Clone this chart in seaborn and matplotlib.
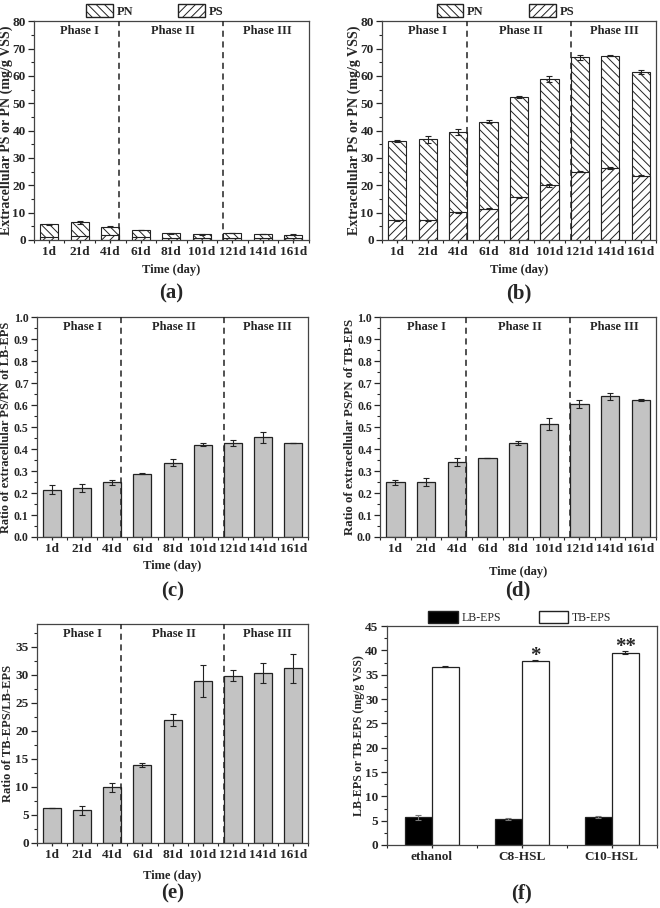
import numpy as np
import pandas as pd
import matplotlib
matplotlib.use('Agg')
import matplotlib.pyplot as plt
import seaborn as sns
from matplotlib.patches import Patch
from matplotlib.ticker import MultipleLocator, FixedLocator

sns.set_style('ticks')
plt.rcParams['font.family'] = ['Liberation Serif', 'DejaVu Serif']
plt.rcParams['font.weight'] = 'bold'
plt.rcParams['axes.labelweight'] = 'bold'
plt.rcParams['hatch.linewidth'] = 0.7

days = ['1d', '21d', '41d', '61d', '81d', '101d', '121d', '141d', '161d']

# (a) LB-EPS PN+PS (stacked, total height) and PS
a_total = [5.8, 6.4, 4.9, 3.7, 2.4, 2.1, 2.5, 2.2, 2.0]
a_total_err = [0.2, 0.5, 0.3, 0.1, 0.1, 0.1, 0.1, 0.1, 0.1]
a_ps = [1.2, 1.3, 2.0, 1.1, 0.7, 0.7, 0.9, 0.7, 0.7]

# (b) TB-EPS PN+PS and PS
b_total = [36.2, 36.8, 39.5, 43.3, 52.3, 58.8, 66.8, 67.3, 61.4]
b_total_err = [0.5, 1.3, 1.0, 0.4, 0.3, 1.0, 1.0, 0.2, 0.7]
b_ps = [7.2, 7.2, 10.1, 11.5, 15.6, 20.0, 25.0, 26.2, 23.5]
b_ps_err = [0.2, 0.2, 0.2, 0.2, 0.2, 0.5, 0.2, 0.4, 0.2]

# (c) PS/PN ratio of LB-EPS
c_ratio = [0.215, 0.225, 0.248, 0.288, 0.338, 0.420, 0.428, 0.455, 0.430]
c_err = [0.020, 0.018, 0.012, 0.003, 0.017, 0.007, 0.013, 0.025, 0.0]

# (d) PS/PN ratio of TB-EPS
d_ratio = [0.248, 0.250, 0.342, 0.360, 0.428, 0.515, 0.605, 0.640, 0.623]
d_err = [0.010, 0.020, 0.018, 0.0, 0.010, 0.028, 0.018, 0.017, 0.006]

# (e) TB-EPS/LB-EPS ratio
e_ratio = [6.3, 5.8, 9.9, 13.9, 21.9, 28.9, 29.8, 30.3, 31.1]
e_err = [0.0, 0.8, 0.8, 0.3, 1.1, 2.9, 1.0, 1.7, 2.6]

# (f) AHL addition
groups = ['ethanol', 'C8-HSL', 'C10-HSL']
lb_eps = [5.7, 5.3, 5.8]
lb_err = [0.5, 0.2, 0.2]
tb_eps = [36.7, 37.9, 39.5]
tb_err = [0.2, 0.1, 0.3]
stars = ['', '*', '**']

phases = ['Phase I', 'Phase II', 'Phase III']
phase_x = [1.0, 4.05, 7.15]

EDGE = '#222222'
GRAY = '#c3c3c3'
BW = 0.6

fig = plt.figure(figsize=(6.6, 9.08), dpi=100)
ax_a = fig.add_axes([0.0515, 0.7357, 0.416, 0.241])
ax_b = fig.add_axes([0.5788, 0.7357, 0.415, 0.241])
ax_c = fig.add_axes([0.056, 0.4086, 0.411, 0.242])
ax_d = fig.add_axes([0.576, 0.4086, 0.418, 0.242])
ax_e = fig.add_axes([0.056, 0.0716, 0.411, 0.241])
ax_f = fig.add_axes([0.586, 0.0694, 0.409, 0.241])


def style_axis(ax, ymax, ystep, n, ysize=9.5):
    ax.set_ylim(0, ymax)
    ax.set_xlim(-0.5, n - 0.5)
    ax.yaxis.set_major_locator(MultipleLocator(ystep))
    ax.yaxis.set_minor_locator(MultipleLocator(ystep / 2))
    ax.xaxis.set_minor_locator(FixedLocator(np.arange(-0.5, n, 1.0)))
    ax.tick_params(axis='both', which='major', labelsize=9.5, length=4, width=0.9, direction='out', pad=2)
    ax.tick_params(axis='y', which='major', labelsize=ysize)
    ax.tick_params(axis='both', which='minor', length=2.2, width=0.8, direction='out')
    ax.tick_params(axis='x', which='major', length=2)
    for s in ax.spines.values():
        s.set_visible(True)
        s.set_color('#444444')
        s.set_linewidth(0.9)
    for lab in ax.get_xticklabels() + ax.get_yticklabels():
        lab.set_fontweight('bold')


def labels(ax, ylabel, ylab_x, ylab_len, xlab_pad):
    # ylab_len: length of the y label in pixels as in the reference
    lab = ax.set_ylabel(ylabel, fontsize=9)
    ax.yaxis.set_label_coords(ylab_x, 0.5)
    r = fig.canvas.get_renderer()
    h = lab.get_window_extent(renderer=r).height
    lab.set_fontsize(9 * ylab_len / h)
    if xlab_pad is not None:
        ax.set_xlabel('Time (day)', fontsize=9, labelpad=xlab_pad)
    else:
        ax.set_xlabel('')


def phase_marks(ax):
    for xv in [2 + BW / 2, 6 - BW / 2]:
        ax.axvline(xv, color='#222222', ls=(0, (4, 3)), lw=1.1, zorder=5)
    for px, name in zip(phase_x, phases):
        ax.text(px, 0.955, name, transform=ax.get_xaxis_transform(), ha='center', va='center',
                fontsize=9, fontweight='bold')


def stacked(ax, total, ps, total_err, ps_err=None, leg_x=0.45):
    df = pd.DataFrame({'day': days, 'total': total, 'ps': ps})
    sns.barplot(data=df, x='day', y='total', color='white', edgecolor=EDGE, linewidth=0.8,
                width=BW, errorbar=None, ax=ax)
    n_first = len(ax.patches)
    for p in ax.patches[:n_first]:
        p.set_hatch('\\\\\\\\')
    sns.barplot(data=df, x='day', y='ps', color='white', edgecolor=EDGE, linewidth=0.8,
                width=BW, errorbar=None, ax=ax)
    for p in ax.patches[n_first:]:
        p.set_hatch('////')
    x = np.arange(len(days))
    ax.errorbar(x, total, yerr=total_err, fmt='none', ecolor='#222222', elinewidth=0.8, capsize=2.5, capthick=0.8, zorder=6)
    if ps_err is not None:
        ax.errorbar(x, ps, yerr=ps_err, fmt='none', ecolor='#222222', elinewidth=0.8, capsize=2.5, capthick=0.8, zorder=6)
    handles = [Patch(facecolor='white', edgecolor=EDGE, hatch='\\\\\\\\', label='PN'),
               Patch(facecolor='white', edgecolor=EDGE, hatch='////', label='PS')]
    ax.legend(handles=handles, loc='lower center', bbox_to_anchor=(leg_x, 0.987), ncol=2, frameon=False,
              borderpad=0, handlelength=2.15, handleheight=1.25, columnspacing=3.6, handletextpad=0.3,
              prop={'size': 9, 'weight': 'bold'})


def gray_bars(ax, vals, errs):
    df = pd.DataFrame({'day': days, 'value': vals})
    sns.barplot(data=df, x='day', y='value', color=GRAY, saturation=1, edgecolor=EDGE, linewidth=0.9,
                width=BW, errorbar=None, ax=ax)
    ax.errorbar(np.arange(len(days)), vals, yerr=errs, fmt='none', ecolor='#222222', elinewidth=0.8,
                capsize=2.5, capthick=0.8, zorder=6)


# (a)
stacked(ax_a, a_total, a_ps, a_total_err, leg_x=0.439)
style_axis(ax_a, 80, 10, len(days))
phase_marks(ax_a)
labels(ax_a, 'Extracellular PS or PN (mg/g VSS)', -0.077, 209, 5)

# (b)
stacked(ax_b, b_total, b_ps, b_total_err, b_ps_err, leg_x=0.45)
style_axis(ax_b, 80, 10, len(days))
phase_marks(ax_b)
labels(ax_b, 'Extracellular PS or PN (mg/g VSS)', -0.077, 210, 5)

# (c)
gray_bars(ax_c, c_ratio, c_err)
style_axis(ax_c, 1.0, 0.1, len(days), ysize=8.5)
phase_marks(ax_c)
ax_c.yaxis.set_minor_locator(MultipleLocator(0.05))
labels(ax_c, 'Ratio of extracellular PS/PN of LB-EPS', -0.092, 210, 4)

# (d)
gray_bars(ax_d, d_ratio, d_err)
style_axis(ax_d, 1.0, 0.1, len(days), ysize=8.5)
phase_marks(ax_d)
labels(ax_d, 'Ratio of extracellular PS/PN of TB-EPS', -0.089, 216, 8)

# (e)
gray_bars(ax_e, e_ratio, e_err)
style_axis(ax_e, 39, 5, len(days))
phase_marks(ax_e)
labels(ax_e, 'Ratio of TB-EPS/LB-EPS', -0.085, 137, 7)

# (f)
df_f = pd.DataFrame({'group': groups * 2,
                     'type': ['LB-EPS'] * 3 + ['TB-EPS'] * 3,
                     'value': lb_eps + tb_eps})
sns.barplot(data=df_f, x='group', y='value', hue='type', palette={'LB-EPS': 'black', 'TB-EPS': 'white'},
            saturation=1, edgecolor=EDGE, linewidth=0.9, width=0.6, gap=0, errorbar=None, ax=ax_f)
off = 0.15
xg = np.arange(len(groups))
ax_f.errorbar(xg - off, lb_eps, yerr=lb_err, fmt='none', ecolor='#777777', elinewidth=0.8, capsize=2, capthick=0.8, zorder=6)
ax_f.errorbar(xg + off, tb_eps, yerr=tb_err, fmt='none', ecolor='#222222', elinewidth=0.8, capsize=2, capthick=0.8, zorder=6)
for xv, yv, e, s in zip(xg + off, tb_eps, tb_err, stars):
    if s:
        ax_f.text(xv, yv + e - 1.2, s, ha='center', va='bottom', fontsize=15, fontweight='bold')
style_axis(ax_f, 45, 5, len(groups))
labels(ax_f, 'LB-EPS or TB-EPS (mg/g VSS)', -0.081, 161, None)
ax_f.legend(handles=[Patch(facecolor='black', edgecolor=EDGE, label='LB-EPS'),
                     Patch(facecolor='white', edgecolor=EDGE, label='TB-EPS')],
            loc='lower center', bbox_to_anchor=(0.492, 0.983), ncol=2, frameon=False,
            borderpad=0, handlelength=2.5, handleheight=1.1, columnspacing=3.2, handletextpad=0.3,
            prop={'size': 8.5, 'weight': 'normal'})

# panel letters
for ax, lab, y in [(ax_a, '(a)', 293), (ax_b, '(b)', 293), (ax_c, '(c)', 591),
                   (ax_d, '(d)', 590), (ax_e, '(e)', 893), (ax_f, '(f)', 893)]:
    pos = ax.get_position()
    fig.text((pos.x0 + pos.x1) / 2, 1 - y / 908, lab, ha='center', va='center',
             fontsize=15, fontweight='bold')

fig.savefig('out.png', dpi=100)
